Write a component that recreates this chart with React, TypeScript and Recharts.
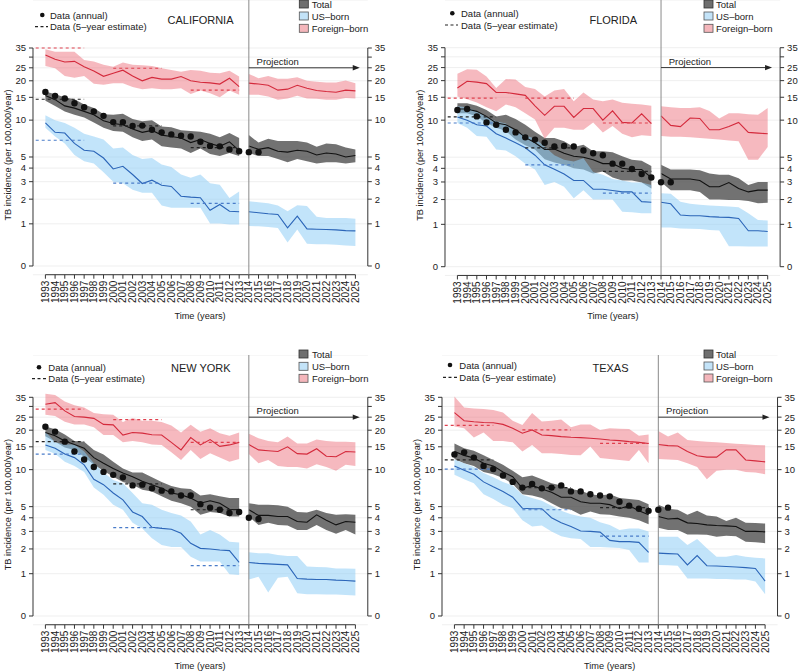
import React from 'react';
import { ComposedChart, Area, Line, XAxis, YAxis, CartesianGrid, ReferenceLine, ReferenceDot } from 'recharts';

const FONT = '"Liberation Sans", Arial, Helvetica, sans-serif';

// ---------- categories / ticks ----------
const YEARS = [1993, 1994, 1995, 1996, 1997, 1998, 1999, 2000, 2001, 2002, 2003, 2004, 2005, 2006, 2007, 2008, 2009, 2010, 2011, 2012, 2013,
  2014, 2015, 2016, 2017, 2018, 2019, 2020, 2021, 2022, 2023, 2024, 2025];
const EST_PERIODS = [[1992, 1997], [2000, 2005], [2008, 2013]];
const Y_TICK_VALUES = [0, 1, 2, 3, 4, 5, 10, 15, 20, 25, 30, 35];
const Y_TICK_LABELS = ['0', '1', '2', '3', '4', '5', '10', '15', '20', '25', '', '35'];

// ---------- CALIFORNIA ----------
const CA_TOTAL = [15.5, 14.4, 12.9, 12.4, 11.7, 11.0, 9.9, 9.4, 9.2, 8.5, 8.0, 8.3, 7.6, 7.4, 7.2, 6.6, 7.0, 6.5, 6.15, 6.7, 5.66,
  6.2, 5.8, 6.0, 5.6, 5.5, 5.7, 5.6, 5.2, 5.4, 5.3, 5.0, 5.15];
const CA_TOTAL_LO = [14.1, 12.9, 11.7, 11.0, 10.5, 9.6, 8.7, 8.2, 8.1, 7.3, 6.8, 7.0, 6.15, 6.0, 5.9, 5.4, 5.9, 5.3, 5.1, 5.4, 5.1,
  5.4, 5.1, 5.1, 4.8, 4.5, 4.8, 4.6, 4.4, 4.5, 4.5, 4.4, 4.5];
const CA_TOTAL_HI = [16.6, 15.8, 15.0, 14.5, 13.2, 12.4, 11.1, 11.0, 11.2, 10.2, 9.8, 10.0, 8.9, 8.8, 8.3, 8.2, 8.1, 7.8, 7.3, 7.9, 7.2,
  7.6, 6.6, 7.1, 6.8, 6.8, 6.8, 6.6, 6.1, 6.5, 6.4, 6.0, 5.8];
const CA_US = [9.5, 8.0, 7.9, 6.5, 5.7, 5.6, 4.9, 3.93, 4.15, 3.5, 2.88, 3.1, 2.77, 2.7, 2.15, 2.1, 2.07, 1.5, 1.75, 1.46, 1.44,
  1.44, 1.4, 1.36, 1.33, 0.87, 1.27, 0.84, 0.83, 0.82, 0.81, 0.79, 0.78];
const CA_US_LO = [8.7, 7.4, 6.5, 5.2, 4.6, 4.4, 3.66, 3.0, 2.9, 2.5, 2.33, 2.33, 1.7, 1.6, 1.6, 1.6, 1.6, 1.01, 1.01, 0.98, 0.98,
  0.93, 0.92, 0.9, 0.87, 0.47, 0.82, 0.44, 0.43, 0.43, 0.42, 0.4, 0.39];
const CA_US_HI = [10.9, 10.0, 9.5, 8.7, 7.8, 7.4, 7.0, 5.9, 6.0, 5.2, 4.8, 4.9, 4.3, 4.1, 3.5, 3.26, 3.5, 2.9, 2.8, 2.06, 2.4,
  1.9, 1.85, 1.8, 1.7, 1.46, 1.72, 1.68, 1.25, 1.2, 1.2, 1.2, 1.17];
const CA_FB = [31.1, 28.9, 27.6, 27.9, 25.5, 23.7, 21.6, 22.8, 24.0, 21.7, 20.0, 21.2, 20.6, 20.6, 21.5, 20.0, 19.5, 19.3, 18.9, 20.9, 18.1,
  19.2, 18.9, 18.5, 17.0, 17.3, 18.5, 17.6, 16.9, 16.6, 16.4, 17.0, 16.8];
const CA_FB_LO = [25.8, 24.8, 21.7, 21.1, 21.7, 19.0, 18.7, 19.2, 19.2, 18.0, 17.3, 17.6, 17.3, 17.3, 17.6, 15.9, 16.9, 16.1, 15.0, 16.9, 15.7,
  15.7, 15.7, 15.2, 14.4, 14.7, 15.4, 14.7, 14.6, 14.4, 14.4, 14.8, 14.7];
const CA_FB_HI = [34.3, 32.9, 32.9, 32.9, 28.6, 27.8, 26.3, 25.5, 27.4, 26.3, 26.1, 25.8, 24.8, 24.1, 23.4, 24.1, 23.8, 23.0, 22.8, 23.8, 21.5,
  22.5, 20.9, 21.7, 20.7, 20.7, 21.3, 20.0, 19.7, 19.4, 19.4, 20.1, 19.2];
const CA_ANNUAL = [16.5, 15.4, 14.7, 13.5, 12.6, 11.7, 10.8, 9.65, 9.65, 9.0, 9.05, 8.4, 8.0, 7.7, 7.5, 7.4, 6.7, 6.2, 6.15, 5.8, 5.6, 5.5, 5.5];
const CA_EST_TOTAL = [14.5, 9.0, 6.0];
const CA_EST_US = [6.9, 2.9, 1.8];
const CA_EST_FB = [35, 24.8, 17.0];

// ---------- FLORIDA ----------
const FL_TOTAL = [12.2, 12.2, 11.7, 10.7, 9.5, 9.2, 8.4, 7.3, 6.6, 5.8, 5.85, 5.4, 5.1, 5.0, 4.75, 4.4, 4.4, 4.0, 3.9, 3.9, 3.3,
  3.6, 3.2, 3.2, 3.2, 3.1, 2.7, 2.7, 2.96, 2.6, 2.4, 2.5, 2.5];
const FL_TOTAL_LO = [11.3, 11.3, 10.7, 9.5, 8.7, 8.2, 7.0, 6.3, 5.8, 4.8, 4.5, 4.3, 4.0, 3.9, 3.6, 3.75, 3.3, 3.1, 3.1, 2.96, 2.6,
  3.0, 2.5, 2.5, 2.5, 2.4, 2.0, 2.0, 1.98, 1.98, 1.93, 1.82, 1.85];
const FL_TOTAL_HI = [13.5, 13.5, 12.9, 12.0, 10.7, 11.0, 10.2, 9.2, 8.1, 7.2, 7.2, 6.8, 6.1, 6.35, 5.6, 5.6, 5.5, 5.1, 4.75, 4.65, 4.2,
  4.3, 3.9, 3.9, 3.9, 3.85, 3.6, 3.5, 3.5, 3.25, 2.8, 3.0, 3.0];
const FL_US = [10.6, 10.0, 9.2, 9.0, 7.8, 7.2, 6.6, 6.0, 5.2, 4.3, 3.93, 3.56, 3.1, 3.1, 2.55, 2.55, 2.48, 2.4, 2.4, 1.9, 1.87,
  1.87, 1.8, 1.33, 1.3, 1.3, 1.27, 1.25, 1.24, 1.2, 0.8, 0.8, 0.78];
const FL_US_LO = [9.5, 8.7, 7.5, 7.4, 5.8, 5.7, 5.1, 4.4, 3.9, 2.8, 3.0, 2.7, 2.07, 2.5, 2.0, 2.0, 2.0, 1.46, 1.44, 1.4, 1.4,
  0.9, 0.9, 0.87, 0.86, 0.85, 0.82, 0.81, 0.4, 0.4, 0.39, 0.39, 0.39];
const FL_US_HI = [12.8, 12.6, 11.7, 10.6, 9.8, 9.4, 8.1, 7.6, 7.1, 6.15, 5.2, 4.75, 4.6, 4.9, 3.7, 3.5, 3.2, 3.1, 2.96, 2.96, 2.8,
  2.33, 2.3, 1.9, 1.8, 1.75, 1.72, 1.7, 1.68, 1.65, 1.4, 1.15, 1.13];
const FL_FB = [17.6, 19.8, 19.5, 19.0, 16.3, 16.3, 15.9, 15.5, 12.9, 10.9, 12.8, 12.8, 10.5, 12.3, 12.3, 10.0, 11.8, 9.6, 9.5, 11.2, 9.4,
  10.8, 9.1, 8.9, 10.4, 10.3, 8.4, 8.4, 8.9, 9.6, 8.0, 7.9, 7.8];
const FL_FB_LO = [15.2, 14.5, 13.7, 12.6, 11.7, 13.2, 12.6, 11.3, 10.1, 7.1, 8.7, 8.7, 8.4, 8.4, 9.6, 8.0, 9.0, 7.8, 7.3, 7.6, 7.5,
  7.5, 7.4, 7.4, 7.3, 7.2, 7.1, 7.0, 6.9, 6.8, 4.75, 4.75, 6.1];
const FL_FB_HI = [22.5, 24.3, 24.1, 21.5, 17.6, 20.6, 20.4, 17.9, 17.3, 15.2, 16.9, 17.3, 14.0, 16.3, 14.4, 14.0, 14.4, 13.6, 13.4, 13.2, 12.9,
  12.8, 12.6, 12.4, 12.4, 12.6, 11.8, 10.3, 11.3, 11.3, 11.1, 11.0, 12.4];
const FL_ANNUAL = [12.0, 12.2, 10.7, 9.6, 9.2, 8.4, 8.0, 7.3, 7.0, 6.6, 6.15, 6.2, 6.15, 5.7, 5.4, 5.2, 4.4, 4.4, 3.95, 3.55, 3.3, 2.98, 2.98];
const FL_EST_TOTAL = [10.6, 6.0, 3.75];
const FL_EST_US = [9.5, 4.3, 2.33];
const FL_EST_FB = [14.8, 14.8, 9.5];

// ---------- NEW YORK ----------
const NY_TOTAL = [19.2, 18.2, 16.6, 15.6, 14.6, 12.4, 11.2, 10.2, 9.4, 8.8, 8.1, 7.6, 7.1, 6.5, 6.3, 5.9, 5.35, 5.6, 5.35, 4.75, 4.7,
  4.7, 4.2, 4.2, 4.1, 4.1, 3.7, 3.65, 4.25, 3.8, 3.45, 3.7, 3.65];
const NY_TOTAL_LO = [18.0, 16.4, 14.8, 14.2, 12.6, 10.9, 9.8, 8.8, 8.0, 7.6, 6.9, 6.7, 6.1, 5.6, 5.35, 5.0, 4.25, 4.5, 4.4, 4.1, 4.1,
  4.1, 3.45, 3.6, 3.45, 3.4, 3.1, 3.1, 3.45, 3.1, 2.85, 3.1, 2.8];
const NY_TOTAL_HI = [21.3, 20.3, 18.6, 16.6, 16.4, 14.2, 13.1, 11.5, 10.2, 9.5, 9.5, 8.7, 8.0, 7.4, 7.1, 7.0, 6.2, 6.35, 6.1, 5.9, 5.9,
  5.35, 5.2, 5.2, 5.15, 5.0, 4.5, 4.45, 4.7, 4.4, 4.25, 4.3, 4.25];
const NY_US = [15.5, 14.6, 13.2, 12.4, 10.9, 8.4, 7.6, 6.5, 5.7, 4.5, 4.1, 3.28, 3.2, 3.14, 2.88, 2.29, 2.03, 2.0, 1.95, 1.92, 1.41,
  1.4, 1.37, 1.35, 1.33, 1.31, 0.85, 0.83, 0.82, 0.82, 0.8, 0.79, 0.77];
const NY_US_LO = [14.2, 13.3, 11.5, 10.7, 9.6, 7.2, 6.3, 5.2, 4.7, 3.6, 3.2, 2.57, 2.2, 2.1, 2.1, 1.64, 1.44, 1.44, 1.44, 0.98, 0.96,
  0.82, 0.9, 0.47, 0.87, 0.9, 0.45, 0.43, 0.43, 0.42, 0.42, 0.41, 0.4];
const NY_US_HI = [19.5, 16.2, 15.6, 15.6, 13.8, 11.2, 9.5, 8.3, 7.8, 6.5, 5.35, 5.2, 4.7, 4.4, 4.2, 3.7, 2.8, 3.1, 2.8, 2.38, 2.34,
  1.84, 1.8, 1.8, 1.72, 1.67, 1.67, 1.25, 1.23, 1.22, 1.18, 1.18, 1.17];
const NY_FB = [31.1, 32.0, 27.8, 25.3, 25.0, 24.5, 22.1, 21.9, 18.4, 19.2, 19.0, 18.5, 18.4, 16.2, 14.2, 17.6, 15.5, 17.0, 15.1, 15.5, 16.2,
  15.6, 14.2, 14.0, 13.8, 15.0, 13.3, 13.2, 14.5, 12.7, 12.6, 13.8, 13.7];
const NY_FB_LO = [26.0, 25.5, 23.1, 22.1, 22.1, 21.0, 18.4, 18.4, 16.2, 16.6, 16.2, 15.6, 15.5, 13.6, 11.9, 14.2, 12.1, 13.4, 12.4, 11.5, 12.1,
  13.2, 11.2, 11.9, 10.7, 10.5, 10.5, 10.2, 11.0, 10.5, 9.8, 10.9, 10.7];
const NY_FB_HI = [37.1, 36.4, 32.6, 30.6, 29.4, 26.8, 26.3, 26.0, 23.0, 24.6, 23.5, 23.5, 23.0, 21.7, 19.2, 22.0, 19.5, 20.7, 19.0, 18.2, 19.2,
  18.8, 17.4, 16.6, 16.2, 17.9, 15.9, 15.9, 17.0, 16.6, 16.4, 16.4, 16.2];
const NY_ANNUAL = [21.2, 19.5, 16.4, 13.8, 12.0, 10.5, 9.6, 9.1, 8.7, 7.5, 7.6, 7.1, 6.8, 6.7, 6.2, 6.2, 5.25, 4.9, 4.7, 4.4, 4.5, 4.0, 3.9];
const NY_EST_TOTAL = [16.4, 7.7, 4.7];
const NY_EST_US = [13.2, 3.25, 1.28];
const NY_EST_FB = [28.7, 24.0, 16.2];

// ---------- TEXAS ----------
const TX_TOTAL = [13.8, 12.9, 12.3, 11.2, 10.7, 9.6, 8.8, 7.1, 7.5, 7.0, 6.6, 6.0, 6.0, 5.5, 5.35, 5.35, 5.2, 4.8, 5.1, 4.6, 4.25,
  4.1, 3.9, 3.95, 3.6, 3.55, 3.45, 3.4, 3.38, 3.33, 3.0, 3.0, 2.97];
const TX_TOTAL_LO = [12.1, 11.2, 10.7, 9.6, 9.2, 8.6, 7.7, 6.35, 6.2, 5.9, 5.35, 4.85, 4.7, 4.25, 4.55, 4.3, 4.25, 4.1, 4.0, 3.8, 3.5,
  3.25, 3.1, 3.1, 2.8, 2.8, 2.78, 2.67, 2.72, 2.7, 2.38, 2.35, 2.3];
const TX_TOTAL_HI = [15.9, 14.6, 14.0, 12.9, 11.9, 10.9, 9.8, 8.7, 9.0, 8.4, 7.8, 7.5, 7.0, 6.8, 6.35, 6.2, 6.35, 5.9, 5.8, 5.7, 5.25,
  5.2, 4.8, 4.7, 4.25, 4.6, 4.2, 4.1, 3.75, 4.0, 3.6, 3.58, 3.55];
const TX_US = [10.7, 9.9, 9.2, 8.0, 7.3, 6.7, 6.0, 4.85, 4.8, 4.8, 4.0, 3.6, 3.33, 3.03, 3.0, 2.95, 2.45, 2.38, 2.38, 2.34, 1.84,
  1.8, 1.78, 1.76, 1.31, 1.69, 1.28, 1.27, 1.25, 1.23, 1.21, 1.18, 0.77];
const TX_US_LO = [9.1, 8.4, 7.8, 6.35, 5.8, 5.2, 4.85, 3.8, 3.33, 3.4, 3.0, 2.7, 2.57, 2.53, 2.1, 2.1, 2.07, 2.05, 1.95, 1.4, 1.4,
  1.31, 1.3, 1.28, 0.85, 0.85, 0.85, 0.83, 0.83, 0.82, 0.82, 0.76, 0.43];
const TX_US_HI = [12.0, 11.2, 10.5, 9.4, 8.7, 8.0, 7.5, 6.3, 5.9, 5.6, 5.1, 4.6, 4.3, 4.1, 4.0, 3.65, 3.45, 3.1, 3.2, 3.2, 3.0,
  2.67, 2.67, 2.67, 2.2, 2.53, 2.03, 1.64, 1.64, 1.72, 1.64, 1.6, 1.57];
const TX_FB = [27.0, 23.5, 23.1, 22.8, 22.7, 22.1, 20.7, 19.0, 20.1, 18.4, 18.2, 17.9, 17.7, 17.6, 17.4, 17.2, 16.9, 16.7, 16.4, 16.2, 15.9,
  15.6, 15.3, 15.2, 13.8, 12.8, 12.5, 12.5, 14.2, 14.2, 11.9, 11.7, 11.5];
const TX_FB_LO = [21.3, 20.7, 17.6, 19.2, 16.6, 16.6, 16.2, 13.8, 15.5, 13.4, 13.4, 13.2, 13.0, 12.9, 15.1, 12.3, 12.1, 11.9, 11.7, 14.2, 11.2,
  12.1, 12.0, 11.9, 11.2, 10.5, 8.4, 9.8, 10.0, 10.0, 9.6, 9.5, 9.2];
const TX_FB_HI = [35.5, 29.4, 29.0, 28.7, 28.2, 27.1, 23.5, 21.9, 26.8, 23.2, 23.5, 24.0, 21.0, 22.1, 22.1, 20.1, 20.7, 20.5, 20.4, 18.2, 18.6,
  19.7, 17.9, 19.2, 16.9, 16.6, 16.4, 16.2, 16.0, 15.8, 15.7, 15.5, 15.4];
const TX_ANNUAL = [13.1, 13.6, 12.4, 10.7, 10.1, 9.0, 8.0, 7.2, 7.7, 7.1, 7.2, 7.5, 6.7, 6.7, 6.35, 6.2, 6.1, 5.5, 5.1, 4.8, 4.6, 4.7, 4.9];
const TX_EST_TOTAL = [11.9, 7.2, 4.9];
const TX_EST_US = [10.1, 4.7, 2.7];
const TX_EST_FB = [21.7, 20.1, 15.9];

// ---------- styles ----------
const C_TOTAL_LINE = '#111111';
const C_TOTAL_FILL = '#4a4a4a';
const C_US_LINE = '#2b65b8';
const C_US_FILL = '#8fcdf5';
const C_FB_LINE = '#d42a3c';
const C_FB_FILL = '#ea6470';
const C_TEXT = '#222222';

const L = (v: number) => Math.log1p(v);

type StateSet = {
  name: string;
  total: number[]; totalLo: number[]; totalHi: number[];
  us: number[]; usLo: number[]; usHi: number[];
  fb: number[]; fbLo: number[]; fbHi: number[];
  annual: number[];
  estTotal: number[]; estUs: number[]; estFb: number[];
};

type Layout = {
  x1993: number; x2025: number; y35: number; y0: number; plotTop: number;
  titleX: number; titleY: number;
  dotX: number; dashX0: number; dashX1: number; leftTextX: number; row1Y: number; row2Y: number;
  boxX: number; boxTextX: number; boxRows: number[];
};

const STATES: { data: StateSet; layout: Layout }[] = [
  {
    data: { name: 'CALIFORNIA', total: CA_TOTAL, totalLo: CA_TOTAL_LO, totalHi: CA_TOTAL_HI, us: CA_US, usLo: CA_US_LO, usHi: CA_US_HI,
      fb: CA_FB, fbLo: CA_FB_LO, fbHi: CA_FB_HI, annual: CA_ANNUAL, estTotal: CA_EST_TOTAL, estUs: CA_EST_US, estFb: CA_EST_FB },
    layout: { x1993: 45, x2025: 355, y35: 48, y0: 266, plotTop: 0, titleX: 200.5, titleY: 20,
      dotX: 42.3, dashX0: 35, dashX1: 48, leftTextX: 50, row1Y: 15, row2Y: 26.7,
      boxX: 299.3, boxTextX: 311.7, boxRows: [4, 16, 28.3] },
  },
  {
    data: { name: 'FLORIDA', total: FL_TOTAL, totalLo: FL_TOTAL_LO, totalHi: FL_TOTAL_HI, us: FL_US, usLo: FL_US_LO, usHi: FL_US_HI,
      fb: FL_FB, fbLo: FL_FB_LO, fbHi: FL_FB_HI, annual: FL_ANNUAL, estTotal: FL_EST_TOTAL, estUs: FL_EST_US, estFb: FL_EST_FB },
    layout: { x1993: 457.7, x2025: 768, y35: 47.7, y0: 266.7, plotTop: 0, titleX: 613.3, titleY: 20,
      dotX: 452.3, dashX0: 445, dashX1: 458, leftTextX: 461, row1Y: 13.3, row2Y: 25,
      boxX: 704, boxTextX: 716, boxRows: [4, 16, 28.3] },
  },
  {
    data: { name: 'NEW YORK', total: NY_TOTAL, totalLo: NY_TOTAL_LO, totalHi: NY_TOTAL_HI, us: NY_US, usLo: NY_US_LO, usHi: NY_US_HI,
      fb: NY_FB, fbLo: NY_FB_LO, fbHi: NY_FB_HI, annual: NY_ANNUAL, estTotal: NY_EST_TOTAL, estUs: NY_EST_US, estFb: NY_EST_FB },
    layout: { x1993: 45, x2025: 355, y35: 397.3, y0: 616, plotTop: 355, titleX: 200.8, titleY: 368.3,
      dotX: 39, dashX0: 32, dashX1: 47, leftTextX: 48.3, row1Y: 367.3, row2Y: 378.6,
      boxX: 299, boxTextX: 312, boxRows: [354, 366.3, 378.3] },
  },
  {
    data: { name: 'TEXAS', total: TX_TOTAL, totalLo: TX_TOTAL_LO, totalHi: TX_TOTAL_HI, us: TX_US, usLo: TX_US_LO, usHi: TX_US_HI,
      fb: TX_FB, fbLo: TX_FB_LO, fbHi: TX_FB_HI, annual: TX_ANNUAL, estTotal: TX_EST_TOTAL, estUs: TX_EST_US, estFb: TX_EST_FB },
    layout: { x1993: 454.3, x2025: 765, y35: 397.3, y0: 616, plotTop: 355, titleX: 610.5, titleY: 368,
      dotX: 450, dashX0: 443, dashX1: 457, leftTextX: 459.3, row1Y: 365, row2Y: 377.3,
      boxX: 704, boxTextX: 716, boxRows: [354, 366, 378] },
  },
];

function buildRows(s: StateSet) {
  const rows: any[] = [];
  YEARS.forEach((year, i) => {
    rows.push({
      year,
      total: L(s.total[i]),
      totalBand: [L(s.totalLo[i]), L(s.totalHi[i])],
      us: L(s.us[i]),
      usBand: [L(s.usLo[i]), L(s.usHi[i])],
      fb: L(s.fb[i]),
      fbBand: [L(s.fbLo[i]), L(s.fbHi[i])],
      annual: i < s.annual.length ? L(s.annual[i]) : null,
    });
    if (year === 2013) {
      rows.push({ year: 2013.5, total: null, totalBand: null, us: null, usBand: null, fb: null, fbBand: null, annual: null });
    }
  });
  return rows;
}

const tickLabel = (v: number) => {
  let best = 0;
  Y_TICK_VALUES.forEach((t, i) => {
    if (Math.abs(L(t) - v) < Math.abs(L(Y_TICK_VALUES[best]) - v)) best = i;
  });
  return Y_TICK_LABELS[best];
};

const YearTick = (props: any) => {
  const { x, y, payload } = props;
  return (
    <text x={x} y={y} transform={`rotate(-90 ${x} ${y})`} textAnchor="end" dominantBaseline="central"
      fontSize={10} fill={C_TEXT} fontFamily={FONT}>
      {payload.value}
    </text>
  );
};

const AXW = 30;
const XAH = 50;
const X_MIN = 1993 - 0.04 * 32;
const X_MAX = 2025 + 0.04 * 32;

function geometry(l: Layout) {
  const xr = l.x2025 - l.x1993;
  const plotLeft = l.x1993 - 0.04 * xr;
  const plotRight = l.x2025 + 0.04 * xr;
  const k = (l.y0 - l.y35) / L(35);
  const plotBottom = l.y0 + 0.04 * (l.y0 - l.y35);
  const yMin = -0.04 * L(35);
  const yMax = L(35) + (l.y35 - l.plotTop) / k;
  return { xr, plotLeft, plotRight, k, plotBottom, yMin, yMax };
}

function StatePanel({ data, layout }: { data: StateSet; layout: Layout }) {
  const g = geometry(layout);
  const rows = buildRows(data);
  const width = g.plotRight - g.plotLeft + 2 * AXW;
  const height = g.plotBottom - layout.plotTop + XAH;
  const ticks = Y_TICK_VALUES.map(L);
  const estGroups = [
    { vals: data.estTotal, color: '#222222' },
    { vals: data.estUs, color: '#4a7cc9' },
    { vals: data.estFb, color: '#e0404e' },
  ];
  const yAxisCommon = {
    type: 'number' as const,
    domain: [g.yMin, g.yMax],
    ticks,
    interval: 0 as const,
    allowDataOverflow: true,
    width: AXW,
    axisLine: false,
    tickLine: { stroke: '#333' },
    tickSize: 4,
    tickMargin: 3,
    tick: { fontSize: 9.5, fill: C_TEXT, fontFamily: FONT },
    tickFormatter: tickLabel,
  };
  return (
    <div style={{ position: 'absolute', left: g.plotLeft - AXW, top: layout.plotTop, width, height }}>
      <ComposedChart width={width} height={height} data={rows} margin={{ top: 0, right: 0, bottom: 0, left: 0 }}>
        <CartesianGrid vertical={false} stroke="#ebebeb" strokeWidth={0.8} />
        <XAxis dataKey="year" type="number" domain={[X_MIN, X_MAX]} ticks={YEARS} interval={0} allowDataOverflow
          axisLine={false} tickLine={{ stroke: '#333' }} tickSize={4} tickMargin={2} tick={<YearTick />} height={XAH} />
        <YAxis {...yAxisCommon} />
        <YAxis yAxisId="r" orientation="right" {...yAxisCommon} />

        <Area dataKey="totalBand" type="linear" stroke="none" fill={C_TOTAL_FILL} fillOpacity={0.78} isAnimationActive={false} connectNulls={false} />
        <Area dataKey="usBand" type="linear" stroke="none" fill={C_US_FILL} fillOpacity={0.55} isAnimationActive={false} connectNulls={false} />
        <Area dataKey="fbBand" type="linear" stroke="none" fill={C_FB_FILL} fillOpacity={0.45} isAnimationActive={false} connectNulls={false} />

        <Line dataKey="total" type="linear" stroke={C_TOTAL_LINE} strokeWidth={1.1} dot={false} activeDot={false} isAnimationActive={false} connectNulls={false} />
        <Line dataKey="us" type="linear" stroke={C_US_LINE} strokeWidth={1.1} dot={false} activeDot={false} isAnimationActive={false} connectNulls={false} />
        <Line dataKey="fb" type="linear" stroke={C_FB_LINE} strokeWidth={1.1} dot={false} activeDot={false} isAnimationActive={false} connectNulls={false} />

        {estGroups.map((grp, gi) =>
          grp.vals.map((v, pi) => (
            <ReferenceLine key={`e${gi}-${pi}`} ifOverflow="visible" stroke={grp.color} strokeWidth={1.2} strokeDasharray="3 3"
              segment={[{ x: EST_PERIODS[pi][0], y: L(v) }, { x: EST_PERIODS[pi][1], y: L(v) }]} />
          ))
        )}

        <Line dataKey="annual" type="linear" stroke="none" dot={{ r: 3.2, fill: '#111', stroke: 'none' }} activeDot={false} isAnimationActive={false} />

        {/* axes lines in R style */}
        <ReferenceLine ifOverflow="visible" stroke="#333" strokeWidth={1}
          segment={[{ x: X_MIN, y: L(0) }, { x: X_MIN, y: L(35) }]} />
        <ReferenceLine ifOverflow="visible" stroke="#333" strokeWidth={1}
          segment={[{ x: X_MAX, y: L(0) }, { x: X_MAX, y: L(35) }]} />
        <ReferenceLine ifOverflow="visible" stroke="#333" strokeWidth={1}
          segment={[{ x: 1993, y: g.yMin }, { x: 2025, y: g.yMin }]} />
        {/* projection divider */}
        <ReferenceLine ifOverflow="visible" stroke="#8a8a8a" strokeWidth={1}
          segment={[{ x: 2014, y: g.yMin }, { x: 2014, y: g.yMax }]} />
        {/* projection arrow */}
        <ReferenceLine ifOverflow="visible" stroke="#333" strokeWidth={1}
          segment={[{ x: 2014, y: L(25) }, { x: 2025.2, y: L(25) }]} />
        <ReferenceDot x={2025.45} y={L(25)} r={0} ifOverflow="visible"
          shape={(p: any) => <path d={`M${p.cx},${p.cy} l-7,-2.7 l0,5.4 z`} fill="#222" />} />
        <ReferenceDot x={2014.8} y={L(25)} r={0} ifOverflow="visible"
          shape={(p: any) => (
            <text x={p.cx} y={p.cy - 3} fontSize={9.5} fill={C_TEXT} fontFamily={FONT}>Projection</text>
          )} />
      </ComposedChart>
    </div>
  );
}

function PanelText({ data, layout }: { data: StateSet; layout: Layout }) {
  const g = geometry(layout);
  const yLabX = g.plotLeft - 22;
  const yLabY = (layout.y35 + layout.y0) / 2 - 2;
  const boxes = [
    { label: 'Total', fill: '#6f6f6f', stroke: '#333' },
    { label: 'US\u2013born', fill: '#c3e3f8', stroke: '#555' },
    { label: 'Foreign\u2013born', fill: '#f4b6bb', stroke: '#555' },
  ];
  return (
    <g fontFamily={FONT} fill={C_TEXT}>
      <text x={yLabX} y={yLabY} transform={`rotate(-90 ${yLabX} ${yLabY})`} textAnchor="middle" fontSize={9.2}>
        TB incidence (per 100,000/year)
      </text>
      <text x={(layout.x1993 + layout.x2025) / 2} y={g.plotBottom + 44} textAnchor="middle" fontSize={9.2}>Time (years)</text>
      <text x={layout.titleX} y={layout.titleY} textAnchor="middle" dominantBaseline="central" fontSize={11}>{data.name}</text>
      <circle cx={layout.dotX} cy={layout.row1Y} r={2.3} fill="#111" />
      <text x={layout.leftTextX} y={layout.row1Y} dominantBaseline="central" fontSize={9.5}>Data (annual)</text>
      <line x1={layout.dashX0} x2={layout.dashX1} y1={layout.row2Y} y2={layout.row2Y} stroke="#222" strokeWidth={1.2} strokeDasharray="3 2.5" />
      <text x={layout.leftTextX} y={layout.row2Y} dominantBaseline="central" fontSize={9.5}>Data (5–year estimate)</text>
      {boxes.map((b, i) => (
        <g key={b.label}>
          <rect x={layout.boxX} y={layout.boxRows[i] - 4} width={9} height={8} fill={b.fill} stroke={b.stroke} strokeWidth={0.8} />
          <text x={layout.boxTextX} y={layout.boxRows[i]} dominantBaseline="central" fontSize={9.5}>{b.label}</text>
        </g>
      ))}
    </g>
  );
}

export default function App() {
  return (
    <div style={{ position: 'absolute', left: 0, top: 0, width: 800, height: 671, overflow: 'hidden', background: '#fff', fontFamily: FONT }}>
      {STATES.map((s) => (
        <StatePanel key={s.data.name} data={s.data} layout={s.layout} />
      ))}
      <svg width={800} height={671} style={{ position: 'absolute', left: 0, top: 0, pointerEvents: 'none' }}>
        {STATES.map((s) => (
          <PanelText key={s.data.name} data={s.data} layout={s.layout} />
        ))}
      </svg>
    </div>
  );
}
